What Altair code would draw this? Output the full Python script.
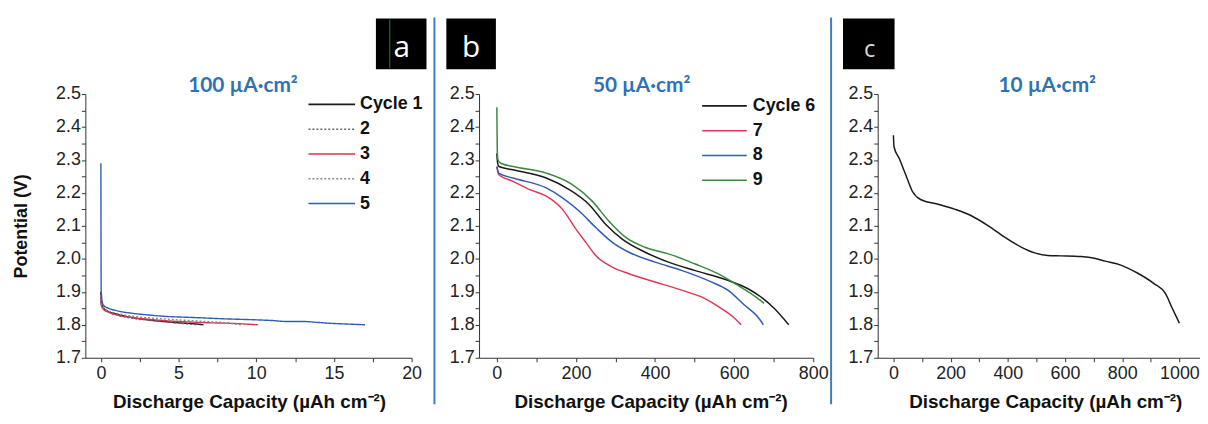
import altair as alt
import pandas as pd

# ---------------- data ----------------
# Panel a : 100 uA/cm2, cycles 1-5
a_names = ["Cycle 1", "2", "3", "4", "5"]
a_c1_x = [0, 0.02, 0.15, 0.5, 1, 2, 3, 4, 5, 6, 6.6]
a_c1_y = [1.90, 1.87, 1.852, 1.840, 1.833, 1.822, 1.815, 1.810, 1.806, 1.803, 1.800]
a_c2_x = [0, 0.02, 0.15, 0.5, 1, 2, 3, 4, 5, 6.2]
a_c2_y = [1.89, 1.865, 1.850, 1.838, 1.830, 1.820, 1.814, 1.810, 1.805, 1.800]
a_c3_x = [0, 0.02, 0.15, 0.5, 1, 2, 3, 4, 5, 6, 7, 8, 9, 10.1]
a_c3_y = [1.88, 1.860, 1.848, 1.838, 1.830, 1.822, 1.817, 1.813, 1.810, 1.808, 1.806, 1.805, 1.803, 1.800]
a_c4_x = [0, 0.02, 0.15, 0.5, 1, 2, 4, 6, 8, 9]
a_c4_y = [1.89, 1.865, 1.852, 1.842, 1.835, 1.826, 1.818, 1.812, 1.806, 1.800]
a_c5_x = [0, 0.02, 0.15, 0.5, 1, 2, 3, 4, 6, 8, 10, 11, 12, 13, 14, 15, 16, 17]
a_c5_y = [2.29, 1.90, 1.860, 1.850, 1.843, 1.835, 1.830, 1.826, 1.822, 1.818, 1.815, 1.813,
          1.810, 1.810, 1.807, 1.804, 1.802, 1.800]

# Panel b : 50 uA/cm2, cycles 6-9
b_names = ["Cycle 6", "7", "8", "9"]
b_c6_x = [0, 2, 5, 41, 125, 183, 233, 275, 317, 375, 434, 500, 584, 634, 667, 701, 738]
b_c6_y = [2.32, 2.29, 2.28, 2.27, 2.245, 2.21, 2.165, 2.105, 2.06, 2.02, 1.99, 1.965, 1.935,
          1.91, 1.885, 1.85, 1.80]
b_c7_x = [0, 5, 41, 83, 125, 166, 200, 225, 250, 292, 334, 400, 467, 525, 567, 601, 618]
b_c7_y = [2.28, 2.255, 2.235, 2.21, 2.19, 2.15, 2.09, 2.05, 2.01, 1.975, 1.955, 1.93, 1.905,
          1.88, 1.85, 1.82, 1.80]
b_c8_x = [0, 5, 41, 125, 166, 208, 250, 292, 334, 400, 467, 542, 584, 626, 659, 674]
b_c8_y = [2.28, 2.26, 2.245, 2.215, 2.185, 2.145, 2.095, 2.05, 2.02, 1.99, 1.965, 1.93, 1.905,
          1.86, 1.825, 1.80]
b_c9_x = [0, 1, 3, 10, 41, 125, 191, 241, 283, 326, 375, 434, 500, 559, 609, 642, 676]
b_c9_y = [2.46, 2.33, 2.30, 2.29, 2.28, 2.26, 2.225, 2.175, 2.115, 2.065, 2.035, 2.015, 1.985,
          1.955, 1.92, 1.895, 1.865]

# Panel c : 10 uA/cm2
c_x = [0, 2, 20, 43, 66, 95, 159, 216, 274, 332, 390, 448, 494, 540, 587, 656, 703, 740, 795,
       853, 911, 951, 975, 1000]
c_y = [2.375, 2.34, 2.305, 2.255, 2.205, 2.18, 2.165, 2.15, 2.13, 2.10, 2.065, 2.035, 2.018,
       2.01, 2.009, 2.007, 2.002, 1.993, 1.981, 1.957, 1.925, 1.895, 1.85, 1.805]

# tick lists
y_ticks = [1.7, 1.75, 1.8, 1.85, 1.9, 1.95, 2.0, 2.05, 2.1, 2.15, 2.2, 2.25, 2.3, 2.35, 2.4, 2.45, 2.5]
a_x_ticks = [0, 2.5, 5, 7.5, 10, 12.5, 15, 17.5, 20]
b_x_ticks = [0, 100, 200, 300, 400, 500, 600, 700, 800]
c_x_ticks = [0, 100, 200, 300, 400, 500, 600, 700, 800, 900, 1000]

titles = ["100 µA·cm²", "50 µA·cm²", "10 µA·cm²"]
letters = ["a", "b", "c"]
x_title = "Discharge Capacity (µAh cm⁻²)"
y_title = "Potential (V)"

# ---------------- styles ----------------
FONT = "Arial, Liberation Sans, Helvetica, sans-serif"
BLUE_T = "#2e72b4"
SEP = "#3a7fc0"
H = 266


def long_frame(names, xs_list, ys_list):
    rows = []
    for n, xs, ys in zip(names, xs_list, ys_list):
        for i, (x, y) in enumerate(zip(xs, ys)):
            rows.append({"cycle": n, "cap": x, "pot": y, "i": i})
    return pd.DataFrame(rows)


def y_axis(title):
    kw = dict(values=y_ticks,
              labelExpr="(round(datum.value*100) % 10 == 0) ? format(datum.value, '.1f') : ''",
              grid=False, tickSize=4, labelPadding=1, labelFont=FONT, labelFontSize=18,
              labelColor="#222", domainColor="#333", tickColor="#333", labelOverlap=False,
              labelFlush=False)
    if title:
        kw.update(title=title, titleFont=FONT, titleFontSize=18, titleFontWeight="bold",
                  titleColor="#111", titleX=-55, titleY=H / 2, titleBaseline="bottom",
                  titleAngle=270)
    else:
        kw.update(title=None)
    return alt.Axis(**kw)


def x_axis(ticks, step_label, tx):
    return alt.Axis(values=ticks,
                    labelExpr=f"(datum.value % {step_label} == 0) ? format(datum.value, 'd') : ''",
                    grid=False, tickSize=4, labelPadding=3, labelFont=FONT, labelFontSize=18,
                    labelColor="#222", domainColor="#333", tickColor="#333",
                    labelOverlap=False, labelFlush=False, title=x_title, titleFont=FONT,
                    titleFontSize=19, titleFontWeight="bold", titleColor="#111",
                    titleX=tx, titleY=35, titleBaseline="top")


def one():
    return pd.DataFrame({"k": [0]})


def decorations(box_x, letter_x, letter_size, letter_color, title, title_x, sep_x):
    box = alt.Chart(one()).mark_rect(color="black").encode(
        x=alt.value(box_x[0]), x2=alt.value(box_x[1]), y=alt.value(-76), y2=alt.value(-25))
    let = alt.Chart(pd.DataFrame({"t": [title[1]]})).mark_text(
        font="Open Sans", fontSize=letter_size, color=letter_color, align="center",
        baseline="alphabetic").encode(x=alt.value(letter_x), y=alt.value(-37), text="t:N")
    ttl = alt.Chart(pd.DataFrame({"t": [title[0]]})).mark_text(
        font="Lato", fontWeight="bold", fontSize=21, color=BLUE_T, align="center",
        baseline="alphabetic").encode(x=alt.value(title_x), y=alt.value(-2), text="t:N")
    layers = [box, let, ttl]
    if sep_x is not None:
        sep = alt.Chart(one()).mark_rule(color=SEP, strokeWidth=2).encode(
            x=alt.value(sep_x), y=alt.value(-77), y2=alt.value(313))
        layers.append(sep)
    return layers


# ---------------- panel a ----------------
WA = 329
df_a = long_frame(a_names, [a_c1_x, a_c2_x, a_c3_x, a_c4_x, a_c5_x],
                  [a_c1_y, a_c2_y, a_c3_y, a_c4_y, a_c5_y])
leg_a = alt.Legend(orient="none", legendX=224, legendY=0, title=None, symbolType="stroke",
                   symbolSize=2209, symbolStrokeWidth=1.6, clipHeight=21, rowPadding=4,
                   labelFont=FONT, labelFontSize=18, labelFontWeight="bold", labelColor="#111",
                   labelOffset=4, padding=0)
lines_a = alt.Chart(df_a).mark_line(strokeWidth=1.4, clip=True, interpolate="monotone").encode(
    x=alt.X("cap:Q", scale=alt.Scale(domain=[-1, 20], nice=False, zero=False),
            axis=x_axis(a_x_ticks, 5, 165)),
    y=alt.Y("pot:Q", scale=alt.Scale(domain=[1.7, 2.5], nice=False, zero=False),
            axis=y_axis(y_title)),
    color=alt.Color("cycle:N", scale=alt.Scale(domain=a_names,
                    range=["#1a1a1a", "#666666", "#d9344f", "#888888", "#2f5db0"]),
                    legend=leg_a),
    strokeDash=alt.StrokeDash("cycle:N", scale=alt.Scale(domain=a_names,
                              range=[[1, 0], [2, 2], [1, 0], [2, 2], [1, 0]]), legend=leg_a),
    order="i:Q",
)
green = alt.Chart(one()).mark_rule(color="#2e7d32", strokeWidth=1).encode(
    x=alt.value(307), y=alt.value(-75), y2=alt.value(-26))
panel_a = alt.layer(lines_a, *decorations((293, 344), 319, 30, "white", (titles[0], letters[0]),
                                          159, 352), green).properties(width=WA, height=H)

# ---------------- panel b ----------------
WB = 337
df_b = long_frame(b_names, [b_c6_x, b_c7_x, b_c8_x, b_c9_x], [b_c6_y, b_c7_y, b_c8_y, b_c9_y])
leg_b = alt.Legend(orient="none", legendX=224, legendY=1.5, title=None, symbolType="stroke",
                   symbolSize=2025, symbolStrokeWidth=1.6, clipHeight=21, rowPadding=4,
                   labelFont=FONT, labelFontSize=18, labelFontWeight="bold", labelColor="#111",
                   labelOffset=5, padding=0)
lines_b = alt.Chart(df_b).mark_line(strokeWidth=1.5, clip=True, interpolate="monotone").encode(
    x=alt.X("cap:Q", scale=alt.Scale(domain=[-45, 800], nice=False, zero=False),
            axis=x_axis(b_x_ticks, 200, 173)),
    y=alt.Y("pot:Q", scale=alt.Scale(domain=[1.7, 2.5], nice=False, zero=False),
            axis=y_axis(None)),
    color=alt.Color("cycle:N", scale=alt.Scale(domain=b_names,
                    range=["#1a1a1a", "#dc3a55", "#2f5db5", "#3b8a3e"]), legend=leg_b),
    order="i:Q",
)
panel_b = alt.layer(lines_b, *decorations((-33, 17), -8, 30, "white", (titles[1], letters[1]),
                                          164, 355)).properties(width=WB, height=H)

# ---------------- panel c ----------------
WC = 325
df_c = pd.DataFrame({"cap": c_x, "pot": c_y, "i": list(range(len(c_x)))})
line_c = alt.Chart(df_c).mark_line(strokeWidth=1.5, color="#1a1a1a", clip=True,
                                   interpolate="monotone").encode(
    x=alt.X("cap:Q", scale=alt.Scale(domain=[-55, 1072], nice=False, zero=False),
            axis=x_axis(c_x_ticks, 200, 169)),
    y=alt.Y("pot:Q", scale=alt.Scale(domain=[1.7, 2.5], nice=False, zero=False),
            axis=y_axis(None)),
    order="i:Q",
)
panel_c = alt.layer(line_c, *decorations((-35, 17), -8, 24, "#d8d8d8", (titles[2], letters[2]),
                                         171, None)).properties(width=WC, height=H)

chart = alt.hconcat(panel_a, panel_b, panel_c, spacing=11).resolve_scale(
    x="independent", y="independent", color="independent", strokeDash="independent"
).resolve_legend(color="independent", strokeDash="independent").properties(
    padding={"left": 5, "top": 7, "right": 0, "bottom": 0}, background="white"
).configure_view(stroke=None)

chart.save("out.html", embed_options={"renderer": "svg", "actions": False})
